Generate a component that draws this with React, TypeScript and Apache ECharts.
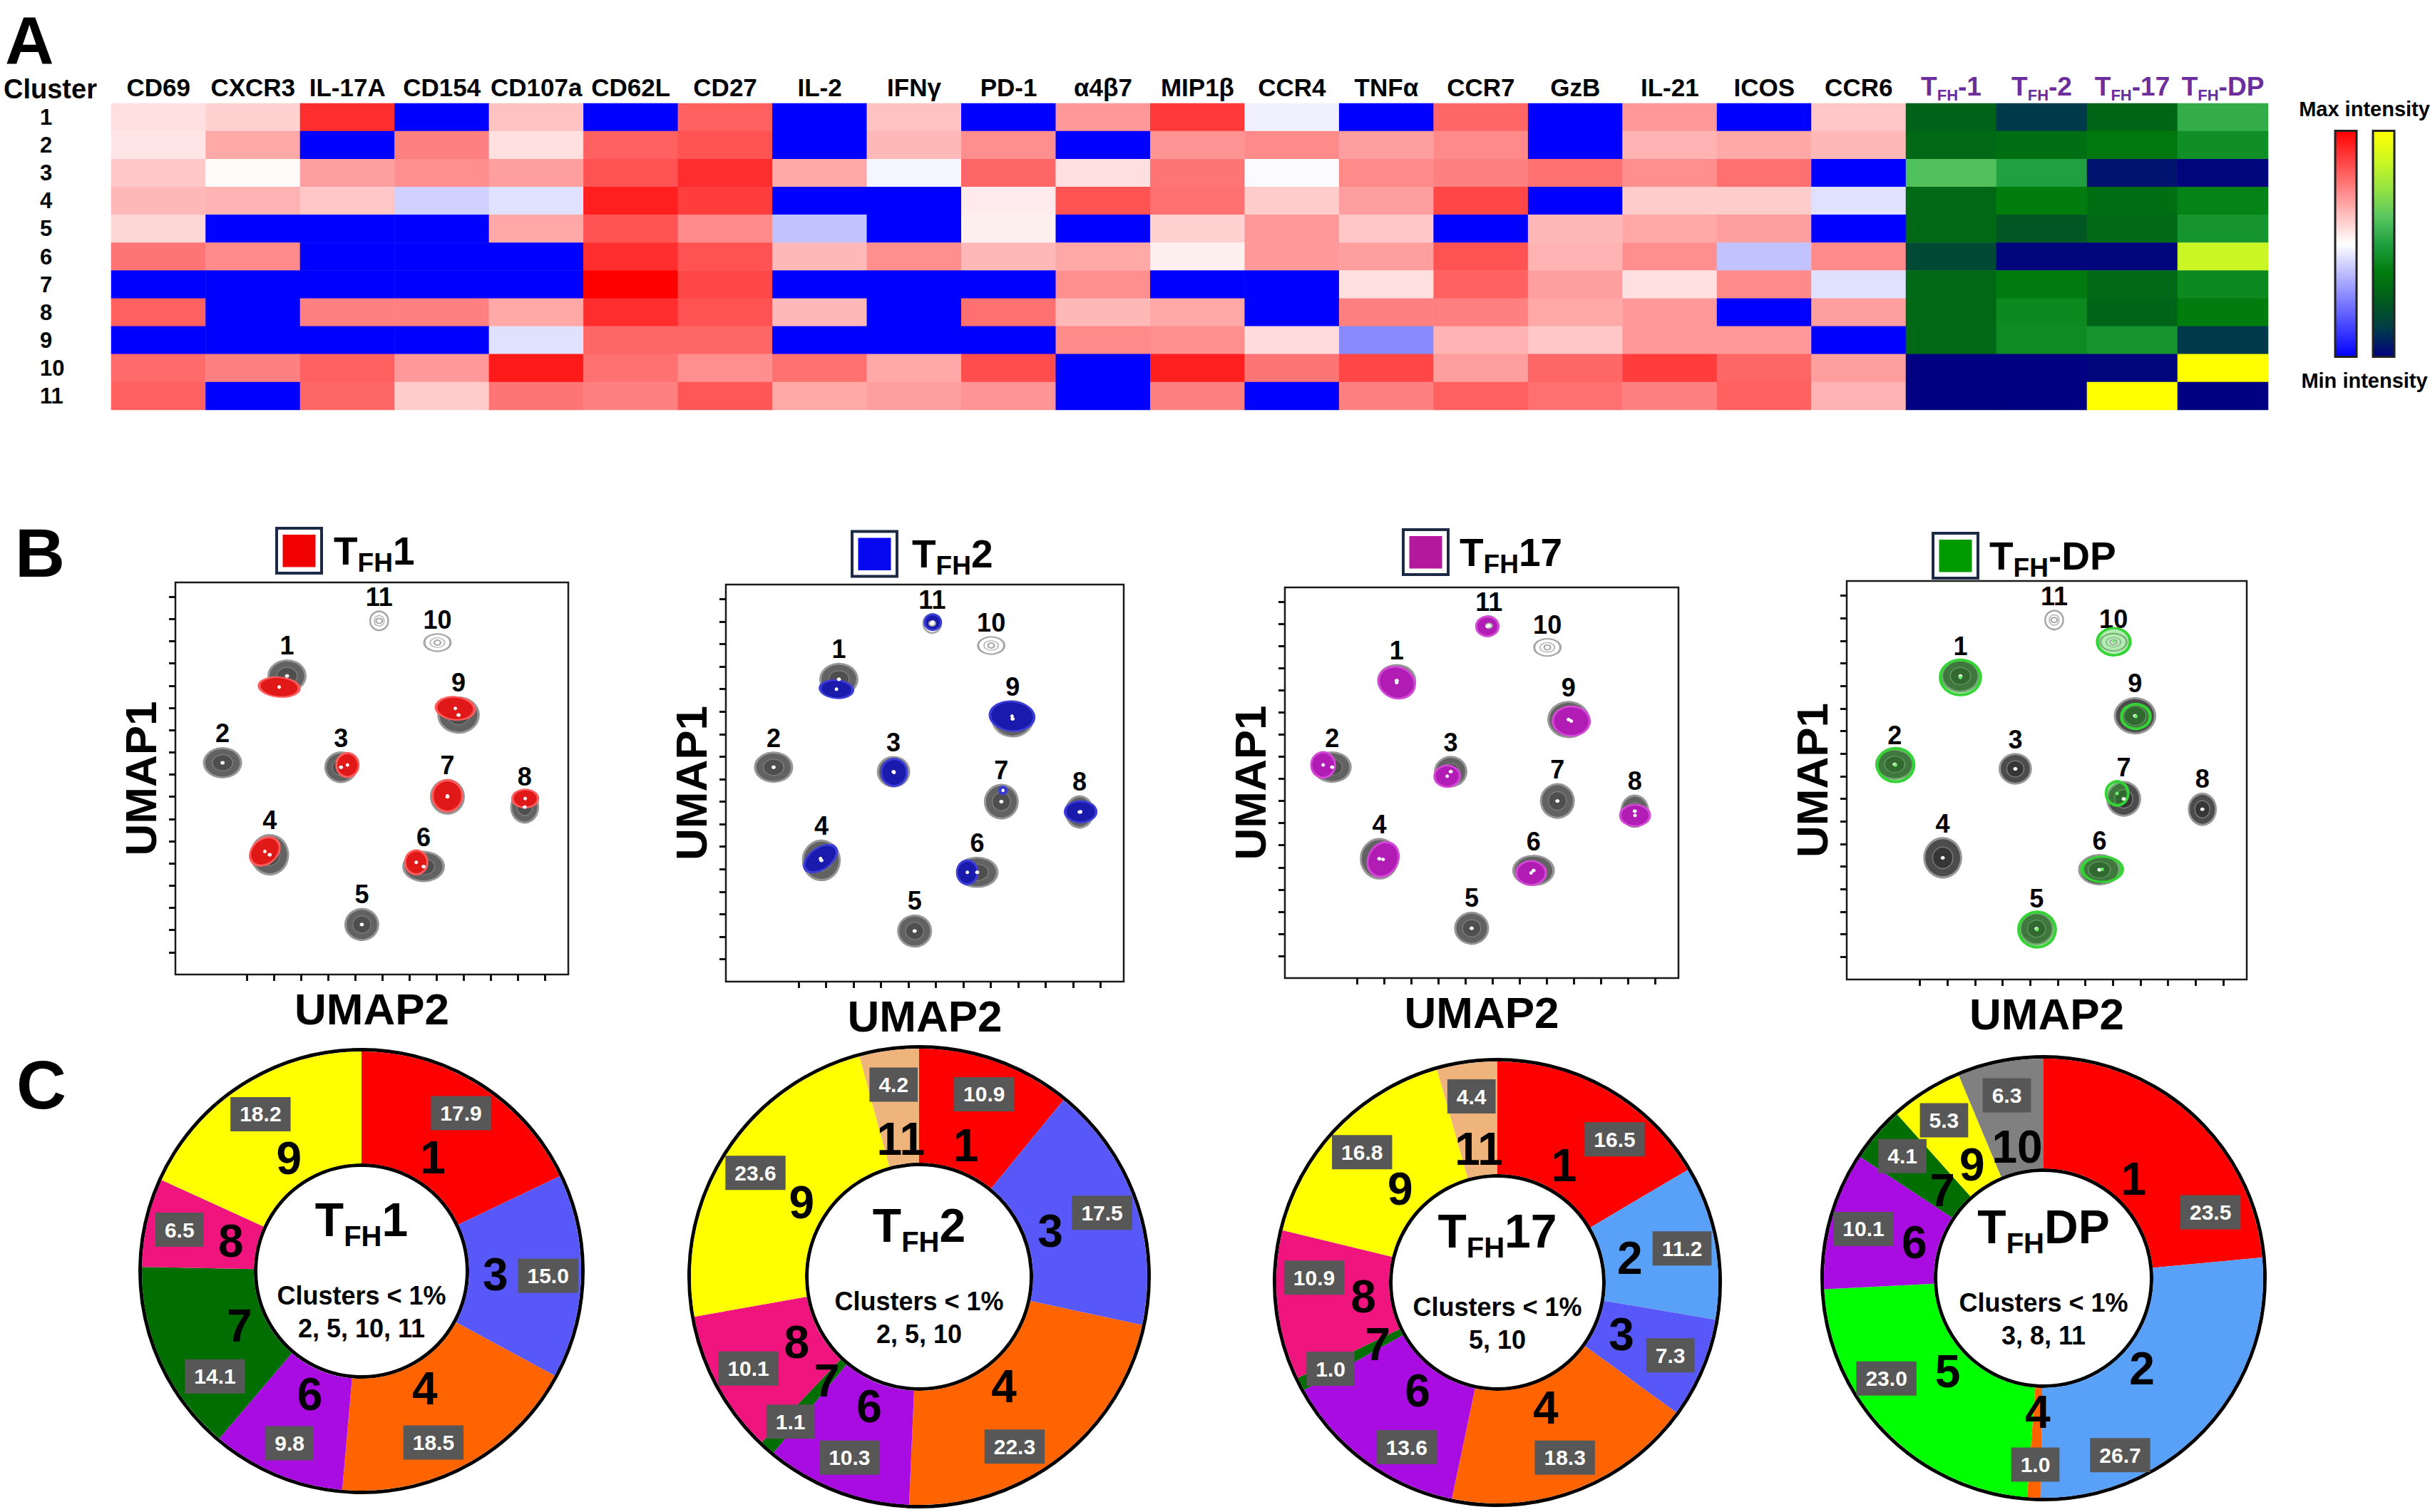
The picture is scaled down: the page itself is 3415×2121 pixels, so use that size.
import React, { useEffect, useRef } from 'react';
import * as echarts from 'echarts';

const FONT = '"Liberation Sans", Arial, Helvetica, sans-serif';

// ---------------- Panel A : heatmap ----------------
const clusters = ['1', '2', '3', '4', '5', '6', '7', '8', '9', '10', '11'];
const markers = ['CD69', 'CXCR3', 'IL-17A', 'CD154', 'CD107a', 'CD62L', 'CD27', 'IL-2', 'IFNγ', 'PD-1', 'α4β7', 'MIP1β', 'CCR4', 'TNFα', 'CCR7', 'GzB', 'IL-21', 'ICOS', 'CCR6'];
const tfhColumns = ['TFH-1', 'TFH-2', 'TFH-17', 'TFH-DP'];

// marker intensity per cluster (0 = min / blue, 50 = white, 100 = max / red)
const markerC1 = [56, 59, 91, 0, 62, 0, 81, 0, 62, 0, 70, 89, 47, 0, 80, 0, 70, 0, 61];
const markerC2 = [55, 67, 0, 75, 56, 81, 84, 0, 64, 72, 0, 71, 73, 69, 73, 0, 65, 67, 64];
const markerC3 = [61, 51, 69, 72, 69, 84, 91, 67, 48, 80, 56, 77, 49, 73, 75, 78, 72, 78, 0];
const markerC4 = [64, 65, 61, 41, 44, 94, 88, 0, 0, 54, 84, 78, 60, 69, 86, 0, 60, 60, 44];
const markerC5 = [58, 0, 0, 0, 67, 84, 73, 38, 0, 53, 0, 59, 70, 61, 0, 64, 67, 69, 0];
const markerC6 = [77, 73, 0, 0, 0, 91, 84, 64, 72, 64, 67, 53, 70, 69, 84, 65, 72, 38, 73];
const markerC7 = [0, 0, 0, 0, 0, 100, 86, 0, 0, 0, 72, 0, 0, 56, 81, 69, 56, 73, 44];
const markerC8 = [81, 0, 75, 75, 67, 91, 84, 64, 0, 78, 64, 67, 0, 75, 75, 67, 70, 0, 69];
const markerC9 = [0, 0, 0, 0, 44, 80, 80, 0, 0, 0, 73, 72, 57, 27, 65, 61, 70, 70, 0];
const markerC10 = [79, 75, 81, 70, 95, 78, 72, 78, 67, 85, 0, 94, 77, 86, 69, 80, 88, 80, 69];
const markerC11 = [81, 0, 80, 60, 77, 75, 83, 67, 69, 71, 0, 75, 0, 75, 81, 78, 75, 81, 65];

// TFH subset intensity per cluster (0 = navy, 100 = yellow)
const tfhC1 = [27, 12, 29, 54];
const tfhC2 = [30, 32, 36, 44];
const tfhC3 = [60, 50, 4, 1];
const tfhC4 = [30, 38, 32, 40];
const tfhC5 = [30, 23, 30, 46];
const tfhC6 = [18, 1, 1, 86];
const tfhC7 = [30, 37, 30, 42];
const tfhC8 = [30, 42, 28, 38];
const tfhC9 = [30, 43, 46, 12];
const tfhC10 = [0, 0, 1, 100];
const tfhC11 = [0, 0, 100, 0];

// ---------------- Panel B : UMAP (tick units) ----------------
const umapX = [1.47, -0.91, 3.46, 0.83, 4.23, 6.51, 7.39, 10.24, 7.8, 7.02, 4.87];
const umapY = [12.44, 8.53, 8.33, 4.39, 1.25, 3.86, 7.0, 6.54, 10.68, 13.94, 14.92];
const umapTickX = [0, 1, 2, 3, 4, 5, 6, 7, 8, 9, 10, 11];
const umapTickY = [0, 1, 2, 3, 4, 5, 6, 7, 8, 9, 10, 11, 12, 13, 14, 15, 16];

const tfh1UmapClusters = ['1', '9', '3', '7', '8', '4', '6'];
const tfh1UmapX = [1.18, 7.68, 3.7, 7.39, 10.26, 0.65, 6.24];
const tfh1UmapY = [11.94, 10.98, 8.43, 7.04, 6.92, 4.54, 4.05];

const tfh2UmapClusters = ['11', '1', '9', '3', '7', '8', '4', '6'];
const tfh2UmapX = [4.89, 1.38, 7.78, 3.48, 7.45, 10.28, 0.8, 6.15];
const tfh2UmapY = [14.98, 12.0, 10.8, 8.3, 7.5, 6.55, 4.47, 3.86];

const tfh17UmapClusters = ['11', '1', '9', '2', '3', '8', '4', '6'];
const tfh17UmapX = [4.81, 1.47, 7.9, -1.24, 3.33, 10.25, 0.97, 6.42];
const tfh17UmapY = [14.89, 12.35, 10.61, 8.63, 8.12, 6.35, 4.36, 3.75];

const dpUmapClusters = ['10', '1', '9', '2', '7', '6', '5'];
const dpUmapX = [7.03, 1.47, 7.83, -0.88, 7.15, 6.61, 4.25];
const dpUmapY = [13.96, 12.38, 10.65, 8.5, 7.24, 3.88, 1.21];

// ---------------- Panel C : donuts ----------------
const pieTfh1Clusters = ['1', '3', '4', '6', '7', '8', '9'];
const pieTfh1Values = [17.9, 15.0, 18.5, 9.8, 14.1, 6.5, 18.2];
const pieTfh2Clusters = ['1', '3', '4', '6', '7', '8', '9', '11'];
const pieTfh2Values = [10.9, 17.5, 22.3, 10.3, 1.1, 10.1, 23.6, 4.2];
const pieTfh17Clusters = ['1', '2', '3', '4', '6', '7', '8', '9', '11'];
const pieTfh17Values = [16.5, 11.2, 7.3, 18.3, 13.6, 1.0, 10.9, 16.8, 4.4];
const pieDpClusters = ['1', '2', '4', '5', '6', '7', '9', '10'];
const pieDpValues = [23.5, 26.7, 1.0, 23.0, 10.1, 4.1, 5.3, 6.3];
const minorClusters = ['2, 5, 10, 11', '2, 5, 10', '5, 10', '3, 8, 11'];

// ---------------- styles ----------------
const clusterColor: Record<string, string> = {
  '1': '#ff0000', '2': '#58a0f8', '3': '#5858f8', '4': '#ff6400', '5': '#00ff00', '6': '#a80ce0',
  '7': '#006e00', '8': '#f0147f', '9': '#ffff00', '10': '#808080', '11': '#efb47c',
};
const BLOB = 1.15;
const graySize = [[45, 38], [45, 36], [38, 36], [45, 48], [40, 38], [49, 36], [40, 41], [33, 38], [49, 43], [32, 21], [22, 23]];
const faint = ['10', '11'];
const tfh1Shape = { size: [[49, 24], [47, 28], [27, 29], [36, 38], [31, 22], [40, 30], [27, 29]], rot: [-5, -5, 0, 0, 0, 40, 0] };
const tfh2Shape = { size: [[20, 19], [40, 22], [54, 36], [31, 33], [9, 9], [38, 26], [45, 26], [25, 29]], rot: [0, -5, -5, 0, 0, 0, 35, 0] };
const tfh17Shape = { size: [[27, 24], [45, 38], [45, 36], [29, 31], [31, 26], [36, 26], [36, 44], [36, 29]], rot: [0, -20, 0, 0, 0, 0, -30, 0] };
const dpShape = { size: [[40, 33], [49, 43], [35, 30], [45, 41], [27, 29], [49, 31], [45, 43]], rot: [0, 0, 0, 0, 0, 0, 0] };
// manual nudges (px) of some percentage boxes, as in the figure
const boxShift1: Record<string, number[]> = { '4': [-23, 10], '7': [33, 40] };
const boxShift2: Record<string, number[]> = { '4': [-32, 23] };
const boxShift3: Record<string, number[]> = { '1': [34, 28], '6': [29, 19], '8': [5, -34] };
const boxShift4: Record<string, number[]> = { '1': [58, 101], '2': [-85, 71], '5': [-33, -42] };

function subRich(main: number, sub: number, drop: number, color: string) {
  const lh = Math.round(main * 1.15);
  const pad = Math.round(2 * (drop + 0.31 * (main - sub)));
  return {
    t: { fontSize: main, fontWeight: 'bold', fontFamily: FONT, color, lineHeight: lh },
    s: { fontSize: sub, fontWeight: 'bold', fontFamily: FONT, color, lineHeight: lh, padding: [pad, 0, 0, 0] },
  };
}
function subText(label: string) {
  return `{t|T}{s|FH}{t|${label.slice(3)}}`;
}
const sz = (s: number[]) => [s[0] * BLOB, s[1] * BLOB];

function buildOption() {
  const markerRows = [markerC1, markerC2, markerC3, markerC4, markerC5, markerC6, markerC7, markerC8, markerC9, markerC10, markerC11];
  const tfhRows = [tfhC1, tfhC2, tfhC3, tfhC4, tfhC5, tfhC6, tfhC7, tfhC8, tfhC9, tfhC10, tfhC11];
  const heatData: number[][] = [];
  markerRows.forEach((row, r) => row.forEach((v, c) => heatData.push([c, r, v])));
  const tfhData: number[][] = [];
  tfhRows.forEach((row, r) => row.forEach((v, c) => tfhData.push([c, r, v])));

  const grids: any[] = [
    { left: 156, top: 145, width: 2517, height: 430 },
    { left: 2673, top: 145, width: 508, height: 430 },
  ];
  const xAxes: any[] = [
    {
      type: 'category', gridIndex: 0, data: markers, position: 'top',
      axisLine: { show: false }, axisTick: { show: false }, splitLine: { show: false },
      axisLabel: { interval: 0, margin: 2, fontSize: 35, lineHeight: 42, fontWeight: 'bold', color: '#000', fontFamily: FONT },
    },
    {
      type: 'category', gridIndex: 1, data: tfhColumns, position: 'top',
      axisLine: { show: false }, axisTick: { show: false }, splitLine: { show: false },
      axisLabel: { interval: 0, margin: 2, formatter: (v: string) => subText(v), rich: subRich(37, 22, 7, '#6b2e9c') },
    },
  ];
  const yAxes: any[] = [
    {
      type: 'category', gridIndex: 0, data: clusters, inverse: true,
      axisLine: { show: false }, axisTick: { show: false }, splitLine: { show: false },
      axisLabel: { interval: 0, align: 'left', margin: 100, fontSize: 31, lineHeight: 34, fontWeight: 'bold', color: '#000', fontFamily: FONT },
    },
    { type: 'category', gridIndex: 1, data: clusters, inverse: true, show: false },
  ];
  const series: any[] = [
    { type: 'heatmap', xAxisIndex: 0, yAxisIndex: 0, data: heatData, itemStyle: { borderWidth: 0 }, emphasis: { disabled: true }, silent: true },
    { type: 'heatmap', xAxisIndex: 1, yAxisIndex: 1, data: tfhData, itemStyle: { borderWidth: 0 }, emphasis: { disabled: true }, silent: true },
  ];

  const graphics: any[] = [];
  const txt = (text: string, x: number, y: number, size: number, extra: any = {}) => ({
    type: 'text', x, y, z: 10,
    style: { text, fontSize: size, fontWeight: 'bold', fontFamily: FONT, fill: '#000', align: 'left', verticalAlign: 'middle', ...extra },
  });
  graphics.push(txt('A', 7, 57, 95));
  graphics.push(txt('B', 21, 775, 97));
  graphics.push(txt('C', 23, 1521, 97));
  graphics.push(txt('Cluster', 5, 125, 38));
  graphics.push(txt('Max intensity', 3316, 153, 29, { align: 'center' }));
  graphics.push(txt('Min intensity', 3316, 534, 29, { align: 'center' }));
  graphics.push({ type: 'rect', z: 10, shape: { x: 3275, y: 183.5, width: 30, height: 317 }, style: { fill: 'none', stroke: '#222', lineWidth: 3 } });
  graphics.push({ type: 'rect', z: 10, shape: { x: 3328, y: 183.5, width: 30, height: 317 }, style: { fill: 'none', stroke: '#222', lineWidth: 3 } });

  // ---------- UMAP panels ----------
  const panels = [
    { title: 'TFH1', swatch: '#f00000', grid: { left: 246, top: 817, width: 551, height: 550 }, box: [388, 741], textX: 468,
      cl: tfh1UmapClusters, ox: tfh1UmapX, oy: tfh1UmapY, shape: tfh1Shape, fill: '#e01818', border: '#ff5c5c', ring: false },
    { title: 'TFH2', swatch: '#0808f0', grid: { left: 1018, top: 820, width: 558, height: 557 }, box: [1195, 745.5], textX: 1279,
      cl: tfh2UmapClusters, ox: tfh2UmapX, oy: tfh2UmapY, shape: tfh2Shape, fill: '#1a1aad', border: '#3d3dd8', ring: false },
    { title: 'TFH17', swatch: '#b4189c', grid: { left: 1802, top: 824, width: 552, height: 548 }, box: [1968, 743], textX: 2047,
      cl: tfh17UmapClusters, ox: tfh17UmapX, oy: tfh17UmapY, shape: tfh17Shape, fill: '#b01cb4', border: '#d24ad4', ring: false },
    { title: 'TFH-DP', swatch: '#009a00', grid: { left: 2590, top: 815, width: 561, height: 559 }, box: [2711, 748], textX: 2790,
      cl: dpUmapClusters, ox: dpUmapX, oy: dpUmapY, shape: dpShape, fill: 'rgba(40,200,40,0.35)', border: '#35d435', ring: true },
  ];
  panels.forEach((p, k) => {
    const gi = k + 2;
    grids.push({ ...p.grid, show: true, borderColor: '#1a1a1a', borderWidth: 2.5 });
    xAxes.push({
      type: 'value', gridIndex: gi, min: -2.65, max: 11.85,
      axisLine: { show: false, onZero: false },
      axisTick: { show: true, customValues: umapTickX, length: 9, lineStyle: { width: 3, color: '#111' } },
      axisLabel: { show: false }, splitLine: { show: false },
      name: 'UMAP2', nameLocation: 'middle', nameGap: 17,
      nameTextStyle: { fontSize: 62, fontWeight: 'bold', fontFamily: FONT, color: '#000' },
    });
    yAxes.push({
      type: 'value', gridIndex: gi, min: -1.0, max: 16.65,
      axisLine: { show: false, onZero: false },
      axisTick: { show: true, customValues: umapTickY, length: 9, lineStyle: { width: 3, color: '#111' } },
      axisLabel: { show: false }, splitLine: { show: false },
      name: 'UMAP1', nameLocation: 'middle', nameGap: 18,
      nameTextStyle: { fontSize: 62, fontWeight: 'bold', fontFamily: FONT, color: '#000' },
    });
    // gray contours (all cells)
    series.push({
      type: 'scatter', xAxisIndex: gi, yAxisIndex: gi, symbol: 'circle', z: 3, silent: true,
      data: clusters.map((c, i) => ({
        name: c, value: [umapX[i], umapY[i]], symbolSize: sz(graySize[i]),
        itemStyle: faint.includes(c)
          ? { color: '#ffffff', borderColor: '#a6a6a6', borderWidth: 2.5, opacity: 1 }
          : { color: p.ring ? '#4c4c4c' : '#626262', borderColor: '#979797', borderWidth: 3, opacity: 1 },
      })),
      label: { show: true, position: 'top', distance: 1, formatter: '{b}', fontSize: 36, fontWeight: 'bold', color: '#000', fontFamily: FONT },
    });
    // inner ring of gray contours
    series.push({
      type: 'scatter', xAxisIndex: gi, yAxisIndex: gi, symbol: 'circle', z: 3, silent: true,
      data: clusters.map((c, i) => ({
        value: [umapX[i], umapY[i]], symbolSize: sz(graySize[i]).map((v) => v * 0.55),
        itemStyle: faint.includes(c)
          ? { color: 'rgba(0,0,0,0)', borderColor: '#b5b5b5', borderWidth: 1.5, opacity: 1 }
          : { color: p.ring ? '#363636' : '#4e4e4e', borderColor: '#7a7a7a', borderWidth: 1.5, opacity: 1 },
      })),
    });
    // subset contours
    series.push({
      type: 'scatter', xAxisIndex: gi, yAxisIndex: gi, symbol: 'circle', z: 4, silent: true,
      data: p.cl.map((c, i) => ({
        name: c, value: [p.ox[i], p.oy[i]], symbolSize: sz(p.shape.size[i]), symbolRotate: p.shape.rot[i],
        itemStyle: { color: p.fill, borderColor: p.border, borderWidth: p.ring ? 4 : 3, opacity: 1 },
      })),
    });
    // contour centres
    const dots: any[] = [];
    clusters.forEach((c, i) => {
      if (!faint.includes(c)) dots.push({ value: [umapX[i], umapY[i]], symbolSize: [6, 5], itemStyle: { color: '#ffffff', opacity: 1 } });
      else dots.push({ value: [umapX[i], umapY[i]], symbolSize: [9, 7], itemStyle: { color: '#fff', borderColor: '#a6a6a6', borderWidth: 2, opacity: 1 } });
    });
    p.cl.forEach((c, i) => {
      dots.push({ value: [p.ox[i], p.oy[i]], symbolSize: [5, 5], itemStyle: { color: p.ring ? '#6cf06c' : '#ffffff', opacity: 1 } });
    });
    series.push({ type: 'scatter', xAxisIndex: gi, yAxisIndex: gi, symbol: 'circle', z: 5, silent: true, data: dots });

    // title swatch + text
    graphics.push({ type: 'rect', z: 10, shape: { x: p.box[0], y: p.box[1], width: 63, height: 63 }, style: { fill: '#fff', stroke: '#1c2a48', lineWidth: 4 } });
    graphics.push({ type: 'rect', z: 11, shape: { x: p.box[0] + 8.5, y: p.box[1] + 9, width: 46, height: 45.5 }, style: { fill: p.swatch } });
    graphics.push({
      type: 'text', x: p.textX, y: p.box[1] + 31.5, z: 11,
      style: { text: subText(p.title), rich: subRich(55, 37, 11, '#000'), align: 'left', verticalAlign: 'middle' },
    });
  });

  // ---------- donuts ----------
  const donuts = [
    { label: 'TFH1', cl: pieTfh1Clusters, v: pieTfh1Values, cx: 507, cy: 1783, r0: 151, r1: 308, minor: minorClusters[0], shift: boxShift1 },
    { label: 'TFH2', cl: pieTfh2Clusters, v: pieTfh2Values, cx: 1289, cy: 1791, r0: 160, r1: 320, minor: minorClusters[1], shift: boxShift2 },
    { label: 'TFH17', cl: pieTfh17Clusters, v: pieTfh17Values, cx: 2100, cy: 1799, r0: 152, r1: 310, minor: minorClusters[2], shift: boxShift3 },
    { label: 'TFHDP', cl: pieDpClusters, v: pieDpValues, cx: 2866, cy: 1793, r0: 154, r1: 308, minor: minorClusters[3], shift: boxShift4 },
  ];
  donuts.forEach((d) => {
    const data = d.cl.map((c, i) => ({ name: c, value: d.v[i], itemStyle: { color: clusterColor[c] } }));
    const clear = d.cl.map((c, i) => ({ name: c, value: d.v[i], itemStyle: { color: 'rgba(0,0,0,0)' } }));
    const base = {
      type: 'pie', center: [d.cx, d.cy], startAngle: 90, clockwise: true, silent: true, avoidLabelOverlap: false,
      labelLine: { show: false }, emphasis: { disabled: true },
    };
    series.push({ ...base, z: 2, radius: [d.r0, d.r1], data, label: { show: false }, itemStyle: { borderWidth: 0 } });
    const rn = d.r1 * 0.6;
    series.push({
      ...base, z: 5, radius: [rn - 30, rn + 30], data: clear, itemStyle: { borderWidth: 0 },
      labelLayout: { hideOverlap: false },
      label: { show: true, position: 'inside', formatter: '{b}', fontSize: 64, fontWeight: 'bold', color: '#000', fontFamily: FONT },
    });
    const rv = d.r1 * 0.84;
    series.push({
      ...base, z: 6, radius: [rv - 30, rv + 30], data: clear, itemStyle: { borderWidth: 0 },
      labelLayout: (params: any) => {
        const s = d.shift[d.cl[params.dataIndex]];
        return s ? { dx: s[0], dy: s[1], hideOverlap: false } : { hideOverlap: false };
      },
      label: {
        show: true, position: 'inside', formatter: (q: any) => Number(q.value).toFixed(1),
        fontSize: 30, fontWeight: 'bold', color: '#ffffff', fontFamily: FONT,
        backgroundColor: '#575757', padding: [9, 13],
      },
    });
    graphics.push({ type: 'circle', z: 1, shape: { cx: d.cx, cy: d.cy, r: d.r1 + 2.5 }, style: { fill: 'none', stroke: '#000', lineWidth: 5 } });
    graphics.push({ type: 'circle', z: 1, shape: { cx: d.cx, cy: d.cy, r: d.r0 - 2.5 }, style: { fill: '#fff', stroke: '#000', lineWidth: 5 } });
    graphics.push({
      type: 'text', x: d.cx, y: d.cy - 72, z: 12,
      style: { text: subText(d.label), rich: subRich(66, 40, 15, '#000'), align: 'center', verticalAlign: 'middle' },
    });
    graphics.push({
      type: 'text', x: d.cx, y: d.cy + 57, z: 12,
      style: { text: 'Clusters < 1%\n' + d.minor, fontSize: 36, fontWeight: 'bold', fontFamily: FONT, fill: '#000', lineHeight: 46, align: 'center', verticalAlign: 'middle' },
    });
  });

  return {
    animation: false,
    backgroundColor: '#ffffff',
    textStyle: { fontFamily: FONT },
    grid: grids,
    xAxis: xAxes,
    yAxis: yAxes,
    visualMap: [
      {
        type: 'continuous', seriesIndex: 0, dimension: 2, min: 0, max: 100, calculable: false, orient: 'vertical',
        left: 3275, top: 183.5, itemWidth: 30, itemHeight: 317, padding: 0, hoverLink: false,
        inRange: { color: ['#0000ff', '#ffffff', '#ff0000'] },
      },
      {
        type: 'continuous', seriesIndex: 1, dimension: 2, min: 0, max: 100, calculable: false, orient: 'vertical',
        left: 3328, top: 183.5, itemWidth: 30, itemHeight: 317, padding: 0, hoverLink: false,
        inRange: { color: ['#000080', '#003c48', '#005c1c', '#007c0c', '#20a040', '#5cc860', '#98e440', '#d0f820', '#ffff00'] },
      },
    ],
    series,
    graphic: graphics,
  };
}

export default function App() {
  const ref = useRef<HTMLDivElement>(null);
  useEffect(() => {
    const chart = echarts.init(ref.current!, undefined, { renderer: 'svg' });
    chart.setOption(buildOption() as any);
    return () => chart.dispose();
  }, []);
  return <div ref={ref} style={{ position: 'fixed', left: 0, top: 0, width: 3415, height: 2121, background: '#fff' }} />;
}
